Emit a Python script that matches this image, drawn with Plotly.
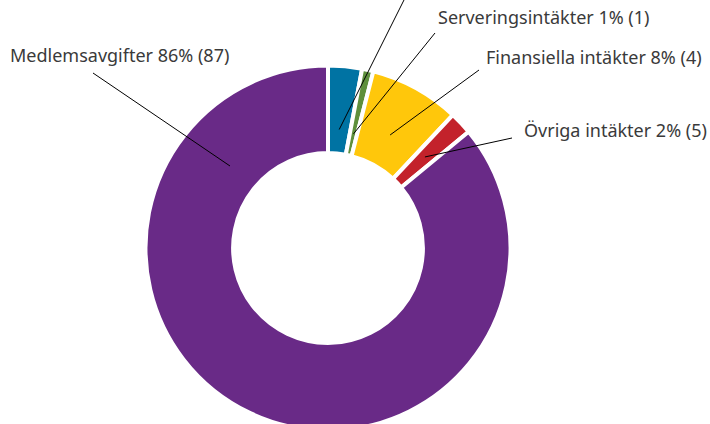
import math
import plotly.graph_objects as go

# ---- data ----
categories = ["", "Serveringsintäkter", "Finansiella intäkter", "Övriga intäkter", "Medlemsavgifter"]
values = [3, 1, 8, 2, 86]
previous = [None, 1, 4, 5, 87]
colors = ["#0073a3", "#5e8f3c", "#ffc70b", "#c3222b", "#692a87"]

W, H = 710, 432  # viewport is 424 tall; bottom of the ring is cut off as in the reference
CX, CY, R = 328, 248, 182.5
HOLE = 0.52

fig = go.Figure(go.Pie(
    labels=[c if c else " " for c in categories],
    values=values,
    sort=False,
    direction="clockwise",
    rotation=0,
    hole=HOLE,
    textinfo="none",
    hoverinfo="label+percent",
    marker=dict(colors=colors, line=dict(color="white", width=4)),
    domain=dict(x=[(CX - R) / W, (CX + R) / W], y=[(H - CY - R) / H, (H - CY + R) / H]),
    showlegend=False,
))

def to_paper(px, py):
    return px / W, 1 - py / H

# anchor points on slices computed from the data
total = sum(values)
cum = 0
anchors = []
for i, v in enumerate(values):
    mid = (cum + v / 2) / total * 360
    cum += v
    anchors.append(mid)

# label text positions (px) and leader-line start points (px)
label_pos = [None, (436, 17), (484, 57), (522, 130), (8, 55)]
line_start = [(405, -2), (435, 33), (479, 70), (512, 138), (93, 73)]
anchor_r = [119, 117, 129, 133, None]

shapes = []
annotations = []
for i, cat in enumerate(categories):
    if anchor_r[i] is not None:
        th = math.radians(anchors[i])
        ex, ey = CX + anchor_r[i] * math.sin(th), CY - anchor_r[i] * math.cos(th)
    else:
        ex, ey = 230, 166
    x0, y0 = to_paper(*line_start[i])
    x1, y1 = to_paper(ex, ey)
    shapes.append(dict(type="line", xref="paper", yref="paper", x0=x0, y0=y0, x1=x1, y1=y1,
                       line=dict(color="black", width=1)))
    if label_pos[i] is not None and cat:
        lx, ly = to_paper(*label_pos[i])
        annotations.append(dict(
            xref="paper", yref="paper", x=lx, y=ly, xanchor="left", yanchor="middle",
            text=f"{cat} {values[i]}% ({previous[i]})", showarrow=False,
            font=dict(family="Noto Sans", size=18, color="#3a3a3a"),
        ))

fig.update_layout(
    width=W, height=H,
    margin=dict(l=0, r=0, t=0, b=0),
    paper_bgcolor="white", plot_bgcolor="white",
    shapes=shapes, annotations=annotations,
)
fig.write_html("out.html", config={"displayModeBar": False},
               post_script="document.body.style.margin='0';document.body.style.overflow='hidden';")
